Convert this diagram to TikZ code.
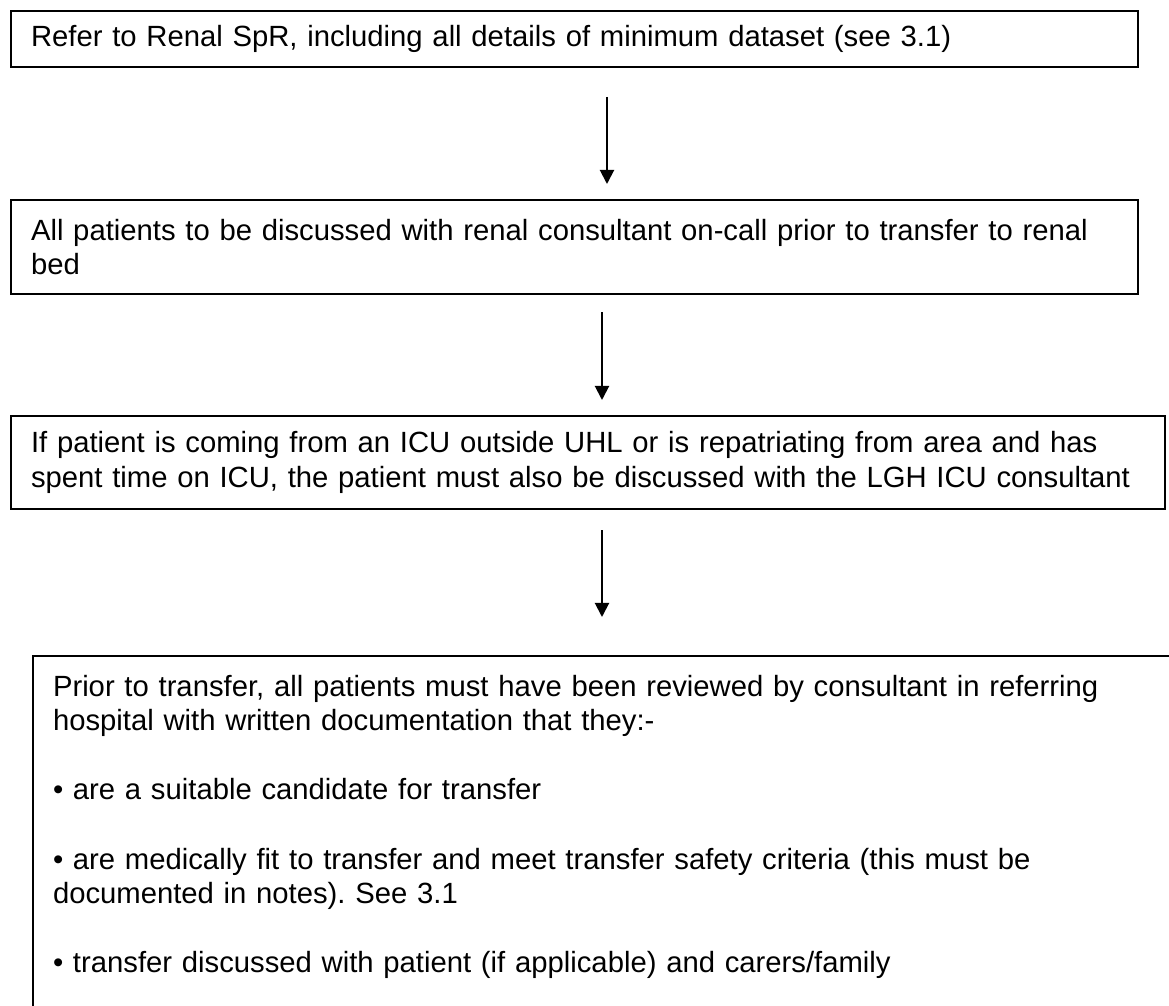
\documentclass[tikz,border=0pt]{standalone}
\usepackage{fontspec}
\setmainfont{Liberation Sans}
\frenchspacing
\usetikzlibrary{arrows.meta}

\tikzset{
    stepbox/.style={draw,line width=0.8pt,anchor=north west,align=left,
        inner xsep=8pt,inner ysep=0pt,font=\fontsize{11.7}{13.84}\selectfont},
    flow/.style={->,line width=0.8pt}
}

\begin{document}
\begin{tikzpicture}[>={Triangle[width=5.6pt,length=5.6pt]},x=0.4pt,y=-0.4pt]
                        \useasboundingbox (0,0) rectangle (1169,1006);
                        \clip (0,0) rectangle (1169,1006);
                        \node[stepbox,text width=434.8pt,minimum height=22.4pt] (refer) at (10,10)
                            {Refer to Renal SpR, including all details of minimum dataset (see 3.1)};
                        \node[stepbox,text width=434.8pt,minimum height=37.6pt] (discuss) at (10,199)
                            {All patients to be discussed with renal consultant on-call prior to transfer to renal\\bed};
                        \node[stepbox,text width=445.6pt,minimum height=37.2pt] (icu) at (10,415)
                            {If patient is coming from an ICU outside UHL or is repatriating from area and has\\
                             spent time on ICU, the patient must also be discussed with the LGH ICU consultant};
                        \node[stepbox,text width=480pt,inner ysep=7.6pt,text depth=140pt] (review) at (32,655)
                            {Prior to transfer, all patients must have been reviewed by consultant in referring\\
                             hospital with written documentation that they:-\\[13.84pt]
                             • are a suitable candidate for transfer\\[13.84pt]
                             • are medically fit to transfer and meet transfer safety criteria (this must be\\
                             documented in notes). See 3.1\\[13.84pt]
                             • transfer discussed with patient (if applicable) and carers/family};
                        % connectors
                        \draw[flow,shorten <=11.6pt,shorten >=6pt] (refer.south -| 607,0) -- (discuss.north -| 607,0);
                        \draw[flow,shorten <=6.8pt,shorten >=6pt] (discuss.south -| 602,0) -- (icu.north -| 602,0);
                        \draw[flow,shorten <=8pt,shorten >=15.2pt] (icu.south -| 602,0) -- (review.north -| 602,0);
                    \end{tikzpicture}
\end{document}
